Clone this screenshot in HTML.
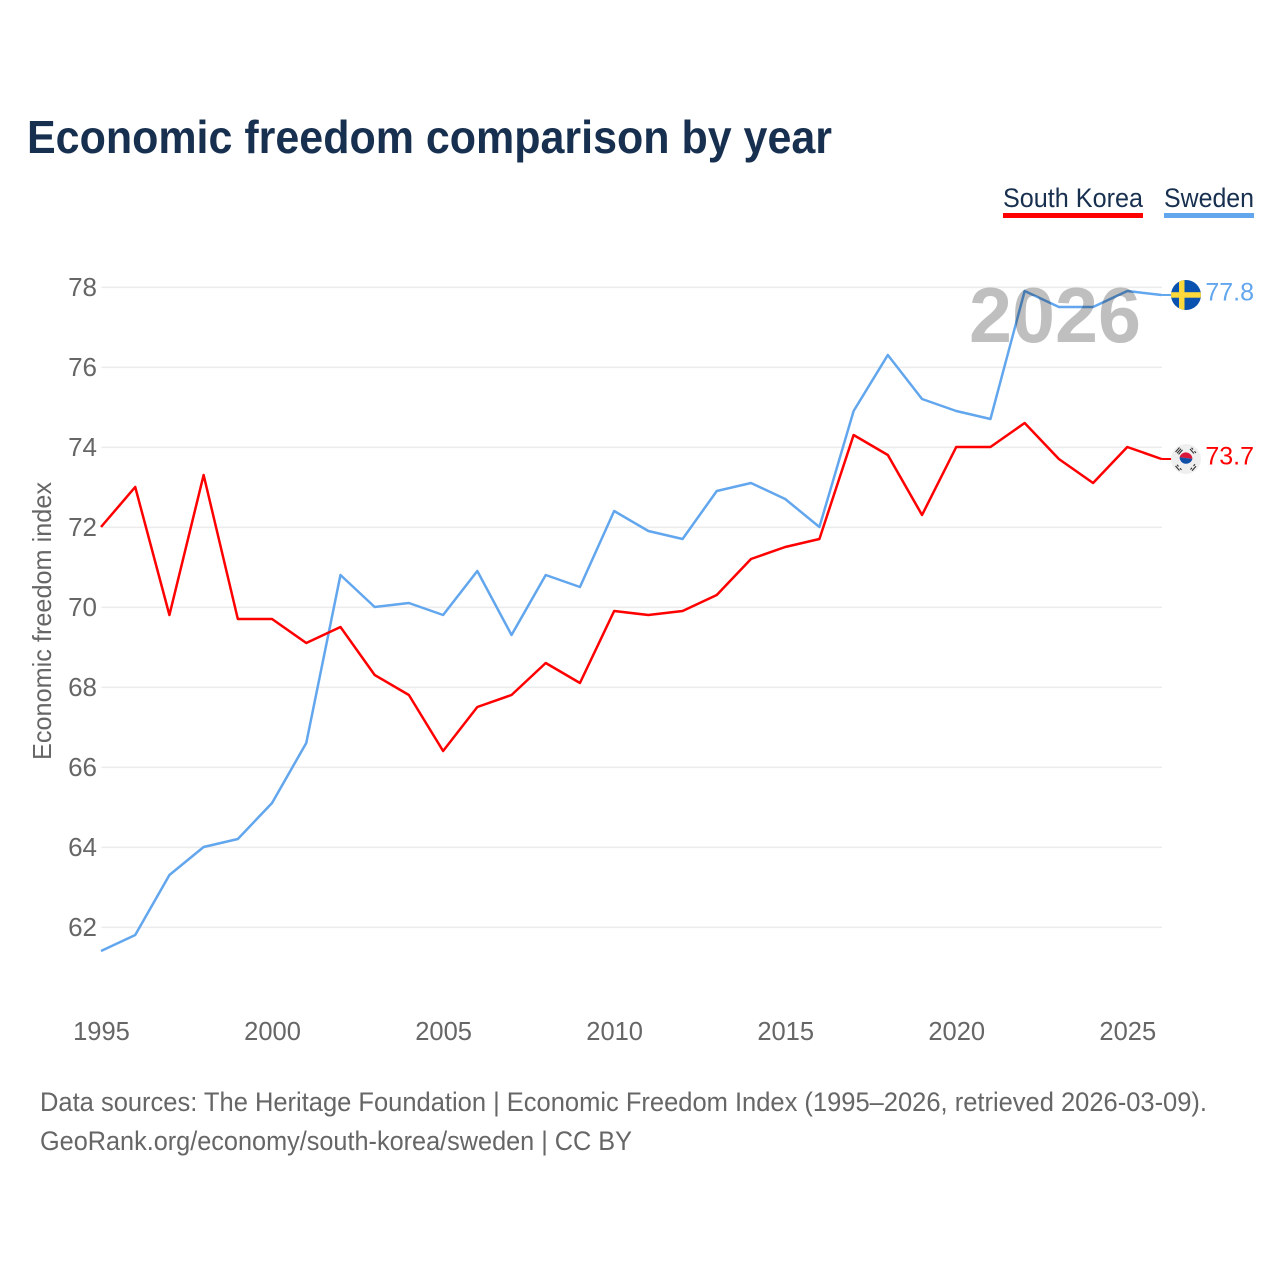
<!DOCTYPE html>
<html lang="en">
<head>
<meta charset="utf-8">
<title>Economic freedom comparison by year</title>
<style>
html,body{margin:0;padding:0;background:#fff;width:1280px;height:1280px;overflow:hidden}
svg{display:block;font-family:"Liberation Sans",sans-serif}
</style>
</head>
<body>
<svg id="chart" xmlns="http://www.w3.org/2000/svg" width="1280" height="1280" viewBox="0 0 1280 1280">
  <defs>
    <clipPath id="clip-se"><circle cx="1186" cy="295" r="15"/></clipPath>
    <clipPath id="clip-kr"><circle cx="1186" cy="459" r="15"/></clipPath>
  </defs>
  <rect x="0" y="0" width="1280" height="1280" fill="#fff"/>
  <text x="27" y="153" font-size="46" font-weight="700" fill="#18304f" textLength="805" lengthAdjust="spacingAndGlyphs">Economic freedom comparison by year</text>

  <g>
    <g>
      <text x="1003" y="207" font-size="27" fill="#18304f" textLength="140" lengthAdjust="spacingAndGlyphs">South Korea</text>
      <rect x="1003" y="213" width="140" height="5" fill="#ff0000"/>
    </g>
    <g>
      <text x="1164" y="207" font-size="27" fill="#18304f" textLength="90" lengthAdjust="spacingAndGlyphs">Sweden</text>
      <rect x="1164" y="213" width="90" height="5" fill="#62a6ee"/>
    </g>
  </g>

  <g id="grid"></g>
  <g id="y-ticks"></g>
  <g id="x-ticks"></g>
  <text transform="translate(51,621) rotate(-90)" text-anchor="middle" font-size="26" fill="#666" textLength="278" lengthAdjust="spacingAndGlyphs">Economic freedom index</text>

  <g id="series"></g>

  <text id="year-label" x="1055" y="342" text-anchor="middle" font-size="78" font-weight="700" fill="#000" fill-opacity="0.25" textLength="172" lengthAdjust="spacingAndGlyphs"></text>

  <g clip-path="url(#clip-se)">
    <rect x="1171" y="280" width="30" height="30" fill="#0a52b0"/>
    <rect x="1179" y="280" width="5.5" height="30" fill="#fdd83a"/>
    <rect x="1171" y="292.2" width="30" height="5.5" fill="#fdd83a"/>
  </g>
  <g clip-path="url(#clip-kr)">
    <rect x="1171" y="444" width="30" height="30" fill="#efefef"/>
    <path d="M1179.6 457.3a6.5 6.5 0 0 1 12.8 1.6z" fill="#d8173a"/>
    <path d="M1179.6 457.3a6.5 6.5 0 0 0 12.8 1.6z" fill="#0f4fa8"/>
    <g stroke="#333" stroke-width="1.1" fill="none">
      <path d="M1175.5 452l4-4.5M1177 453.2l4-4.5M1178.5 454.4l4-4.5"/>
      <path d="M1190 449l4 4.5M1191.5 447.8l1.5 1.7M1194.5 451.2l1.5 1.7"/>
      <path d="M1175.5 466l4 4.5M1177 464.8l1.5 1.7M1180 468.2l1.5 1.7"/>
      <path d="M1190.5 469.5l1.5-1.7M1193.5 466l1.5-1.7M1192 470.7l4-4.5"/>
    </g>
  </g>

  <g id="end-labels"></g>

  <text x="40" y="1111" font-size="26.5" fill="#666" textLength="1167" lengthAdjust="spacingAndGlyphs">Data sources: The Heritage Foundation | Economic Freedom Index (1995–2026, retrieved 2026-03-09).</text>
  <text x="40" y="1150" font-size="26.5" fill="#666" textLength="592" lengthAdjust="spacingAndGlyphs">GeoRank.org/economy/south-korea/sweden | CC BY</text>
</svg>
<script>
const years = [1995,1996,1997,1998,1999,2000,2001,2002,2003,2004,2005,2006,2007,2008,2009,2010,2011,2012,2013,2014,2015,2016,2017,2018,2019,2020,2021,2022,2023,2024,2025,2026];
const southKorea = [72.0,73.0,69.8,73.3,69.7,69.7,69.1,69.5,68.3,67.8,66.4,67.5,67.8,68.6,68.1,69.9,69.8,69.9,70.3,71.2,71.5,71.7,74.3,73.8,72.3,74.0,74.0,74.6,73.7,73.1,74.0,73.7];
const sweden = [61.4,61.8,63.3,64.0,64.2,65.1,66.6,70.8,70.0,70.1,69.8,70.9,69.3,70.8,70.5,72.4,71.9,71.7,72.9,73.1,72.7,72.0,74.9,76.3,75.2,74.9,74.7,77.9,77.5,77.5,77.9,77.8];
const yTickLabels = [62,64,66,68,70,72,74,76,78];
const xTickLabels = [1995,2000,2005,2010,2015,2020,2025];

const NS = 'http://www.w3.org/2000/svg';
const xScale = function (yr) { return 101 + (yr - 1995) * (1161.5 - 101) / 31; };
const yScale = function (v) { return 287 + (78 - v) * 40; };

function make(tag, parent, attrs, text) {
  const el = document.createElementNS(NS, tag);
  for (const k in attrs) el.setAttribute(k, attrs[k]);
  if (text !== undefined) el.textContent = text;
  parent.appendChild(el);
  return el;
}

const grid = document.getElementById('grid');
const yTicks = document.getElementById('y-ticks');
yTickLabels.forEach(function (t) {
  const line = make('line', grid, {x1: 101.5, x2: 1162, y1: yScale(t) + 0.3, y2: yScale(t) + 0.3, stroke: '#ececec', 'stroke-width': 1.6});
  
  
  const label = make('text', yTicks, {x: 97, y: yScale(t) + 9, 'text-anchor': 'end', 'font-size': 26, fill: '#666'}, String(t));
  
  
});

const xTicks = document.getElementById('x-ticks');
xTickLabels.forEach(function (t) {
  const label = make('text', xTicks, {x: xScale(t) + 0.5, y: 1040, 'text-anchor': 'middle', 'font-size': 25.5, fill: '#666'}, String(t));
  
  
});

function linePoints(values) {
  return values.map(function (v, i) { return xScale(years[i]).toFixed(2) + ',' + yScale(v).toFixed(2); }).join(' ');
}

const seriesGroup = document.getElementById('series');
const endLabels = document.getElementById('end-labels');

const swedenLine = make('polyline', seriesGroup, {points: linePoints(sweden), fill: 'none', stroke: '#62a6ee', 'stroke-width': 2.5, 'stroke-linejoin': 'round'});



const koreaLine = make('polyline', seriesGroup, {points: linePoints(southKorea), fill: 'none', stroke: '#ff0000', 'stroke-width': 2.5, 'stroke-linejoin': 'round'});



const lastIndex = years.length - 1;

const swedenConnector = make('line', seriesGroup, {x1: xScale(years[lastIndex]), x2: 1172, y1: yScale(sweden[lastIndex]), y2: yScale(sweden[lastIndex]), stroke: '#62a6ee', 'stroke-width': 2});



const koreaConnector = make('line', seriesGroup, {x1: xScale(years[lastIndex]), x2: 1172, y1: yScale(southKorea[lastIndex]), y2: yScale(southKorea[lastIndex]), stroke: '#ff0000', 'stroke-width': 2});



const swedenValue = make('text', endLabels, {x: 1254, y: yScale(sweden[lastIndex]) + 5.5, 'text-anchor': 'end', 'font-size': 25, fill: '#62a6ee'}, sweden[lastIndex].toFixed(1));



const koreaValue = make('text', endLabels, {x: 1254, y: yScale(southKorea[lastIndex]) + 5.5, 'text-anchor': 'end', 'font-size': 25, fill: '#ff0000'}, southKorea[lastIndex].toFixed(1));



document.getElementById('year-label').textContent = String(years[lastIndex]);
</script>
</body>
</html>
